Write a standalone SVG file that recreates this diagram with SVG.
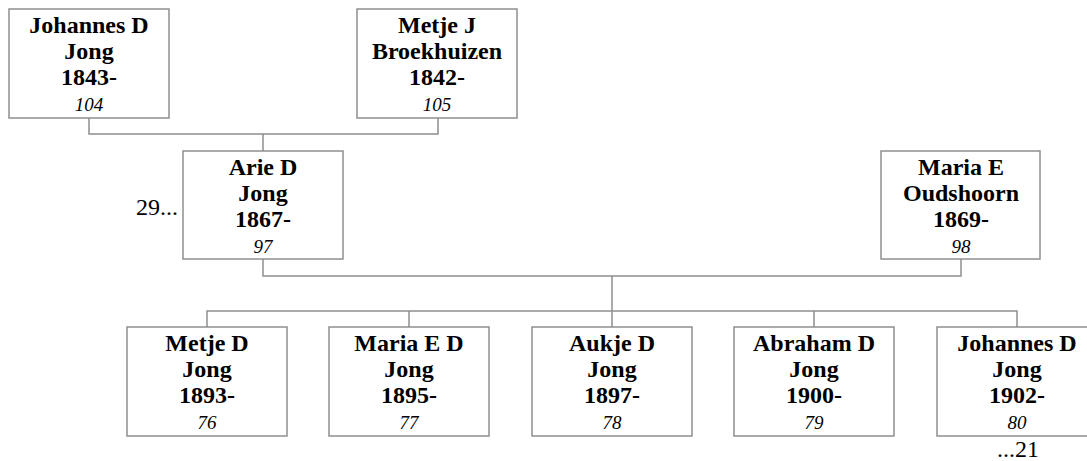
<svg xmlns="http://www.w3.org/2000/svg" width="1087" height="461" viewBox="0 0 1087 461">
<style>
.box{fill:#fff;stroke:#8f8f8f;stroke-width:1.5}
.ln{fill:none;stroke:#8f8f8f;stroke-width:1.5}
text{font-family:'Liberation Serif','Times New Roman',Times,'DejaVu Serif',serif;fill:#000}
.n{font-weight:bold;font-size:24px;text-anchor:middle}
.id{font-style:italic;font-size:19px;text-anchor:middle}
.t{font-size:24px}
</style>
<rect width="1087" height="461" fill="#fff"/>
<g id="connectors">
<path class="ln" d="M89 118V134H438V118M263 134V151"/>
<path class="ln" d="M263 259V276H961V259M612 276V311"/>
<path class="ln" d="M207 327V311H1017V327M409 311V327M612 311V327M814 311V327"/>
</g>
<g id="p104"><rect class="box" x="9" y="9" width="160" height="109"/>
<text class="n" x="89" y="33">Johannes D</text><text class="n" x="89" y="59">Jong</text><text class="n" x="89" y="85">1843-</text><text class="id" x="89" y="111">104</text></g>
<g id="p105"><rect class="box" x="357" y="9" width="160" height="109"/>
<text class="n" x="437" y="33">Metje J</text><text class="n" x="437" y="59">Broekhuizen</text><text class="n" x="437" y="85">1842-</text><text class="id" x="437" y="111">105</text></g>
<g id="p97"><rect class="box" x="183" y="151" width="160" height="108"/>
<text class="n" x="263" y="175">Arie D</text><text class="n" x="263" y="201">Jong</text><text class="n" x="263" y="227">1867-</text><text class="id" x="263" y="253">97</text></g>
<text class="t" x="136" y="215">29...</text>
<g id="p98"><rect class="box" x="881" y="151" width="159" height="108"/>
<text class="n" x="961" y="175">Maria E</text><text class="n" x="961" y="201">Oudshoorn</text><text class="n" x="961" y="227">1869-</text><text class="id" x="961" y="253">98</text></g>
<g id="p76"><rect class="box" x="127" y="327" width="160" height="109"/>
<text class="n" x="207" y="351">Metje D</text><text class="n" x="207" y="377">Jong</text><text class="n" x="207" y="403">1893-</text><text class="id" x="207" y="429">76</text></g>
<g id="p77"><rect class="box" x="329" y="327" width="160" height="109"/>
<text class="n" x="409" y="351">Maria E D</text><text class="n" x="409" y="377">Jong</text><text class="n" x="409" y="403">1895-</text><text class="id" x="409" y="429">77</text></g>
<g id="p78"><rect class="box" x="532" y="327" width="160" height="109"/>
<text class="n" x="612" y="351">Aukje D</text><text class="n" x="612" y="377">Jong</text><text class="n" x="612" y="403">1897-</text><text class="id" x="612" y="429">78</text></g>
<g id="p79"><rect class="box" x="734" y="327" width="160" height="109"/>
<text class="n" x="814" y="351">Abraham D</text><text class="n" x="814" y="377">Jong</text><text class="n" x="814" y="403">1900-</text><text class="id" x="814" y="429">79</text></g>
<g id="p80"><rect class="box" x="937" y="327" width="160" height="109"/>
<text class="n" x="1017" y="351">Johannes D</text><text class="n" x="1017" y="377">Jong</text><text class="n" x="1017" y="403">1902-</text><text class="id" x="1017" y="429">80</text></g>
<text class="t" x="997" y="457">...21</text>
</svg>
